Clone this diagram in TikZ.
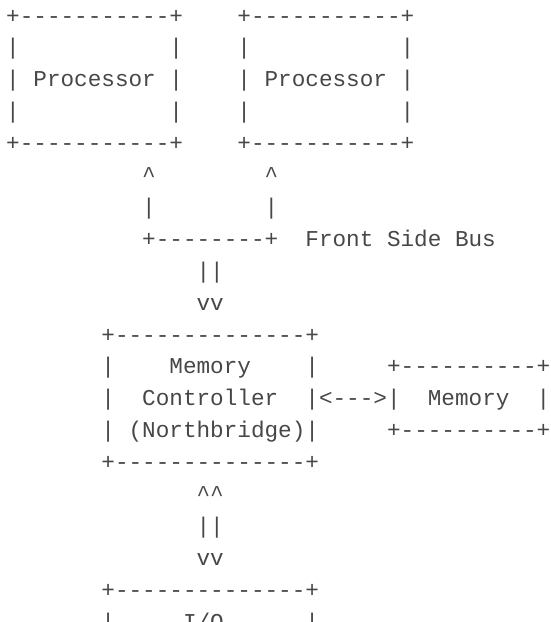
\documentclass[tikz,border=0pt]{standalone}
\usepackage{fontspec}
\setmonofont{Liberation Mono}
\usepackage{xcolor}
\usepackage{tikz}
\usetikzlibrary{positioning}
\definecolor{asciigray}{HTML}{474747}
\tikzstyle{ascii} = [anchor=base west, inner sep=0pt, outer sep=0pt, text=asciigray, font=\fontsize{22.67}{31.9}\selectfont\ttfamily]

\begin{document}
\begin{tikzpicture}[x=13.6pt, y=-31.9pt]
\useasboundingbox (-6.2pt,23pt) rectangle (543.8pt,-599pt);
\clip (-6.2pt,23pt) rectangle (543.8pt,-599pt);

% processors
\node (cpuTop)  [ascii] at (0,0) {+-----------+~~~~+-----------+};
\node (cpuPadA) [ascii] at (0,1) {|~~~~~~~~~~~|~~~~|~~~~~~~~~~~|};
\node (cpuName) [ascii] at (0,2) {|~Processor~|~~~~|~Processor~|};
\node (cpuPadB) [ascii] at (0,3) {|~~~~~~~~~~~|~~~~|~~~~~~~~~~~|};
\node (cpuBot)  [ascii] at (0,4) {+-----------+~~~~+-----------+};

% front side bus
\node (fsbTip)  [ascii] at (10,5) {\textasciicircum~~~~~~~~\textasciicircum};
\node (fsbLeg)  [ascii] at (10,6) {|~~~~~~~~|};
\node (fsbBus)  [ascii] at (10,7) {+--------+~~Front Side Bus};
\node (fsbDown) [ascii] at (14,8) {||};
\node (fsbHead) [ascii] at (14,9) {vv};

% northbridge and memory
\node (nbTop)   [ascii] at (7,10) {+--------------+};
\node (nbMem)   [ascii] at (7,11) {|~~~~Memory~~~~|~~~~~+----------+};
\node (nbCtl)   [ascii] at (7,12) {|~~Controller~~|<--->|~~Memory~~|};
\node (nbName)  [ascii] at (7,13) {|~(Northbridge)|~~~~~+----------+};
\node (nbBot)   [ascii] at (7,14) {+--------------+};

% link to southbridge
\node (ioTip)   [ascii] at (14,15) {\textasciicircum\textasciicircum};
\node (ioLeg)   [ascii] at (14,16) {||};
\node (ioHead)  [ascii] at (14,17) {vv};
\node (ioTop)   [ascii] at (7,18) {+--------------+};
\node (ioName)  [ascii] at (7,19) {|~~~~~I/O~~~~~~|};
%\node (ioCtl)  [ascii] at (7,20) {|~~Controller~~|};

\end{tikzpicture}
\end{document}
